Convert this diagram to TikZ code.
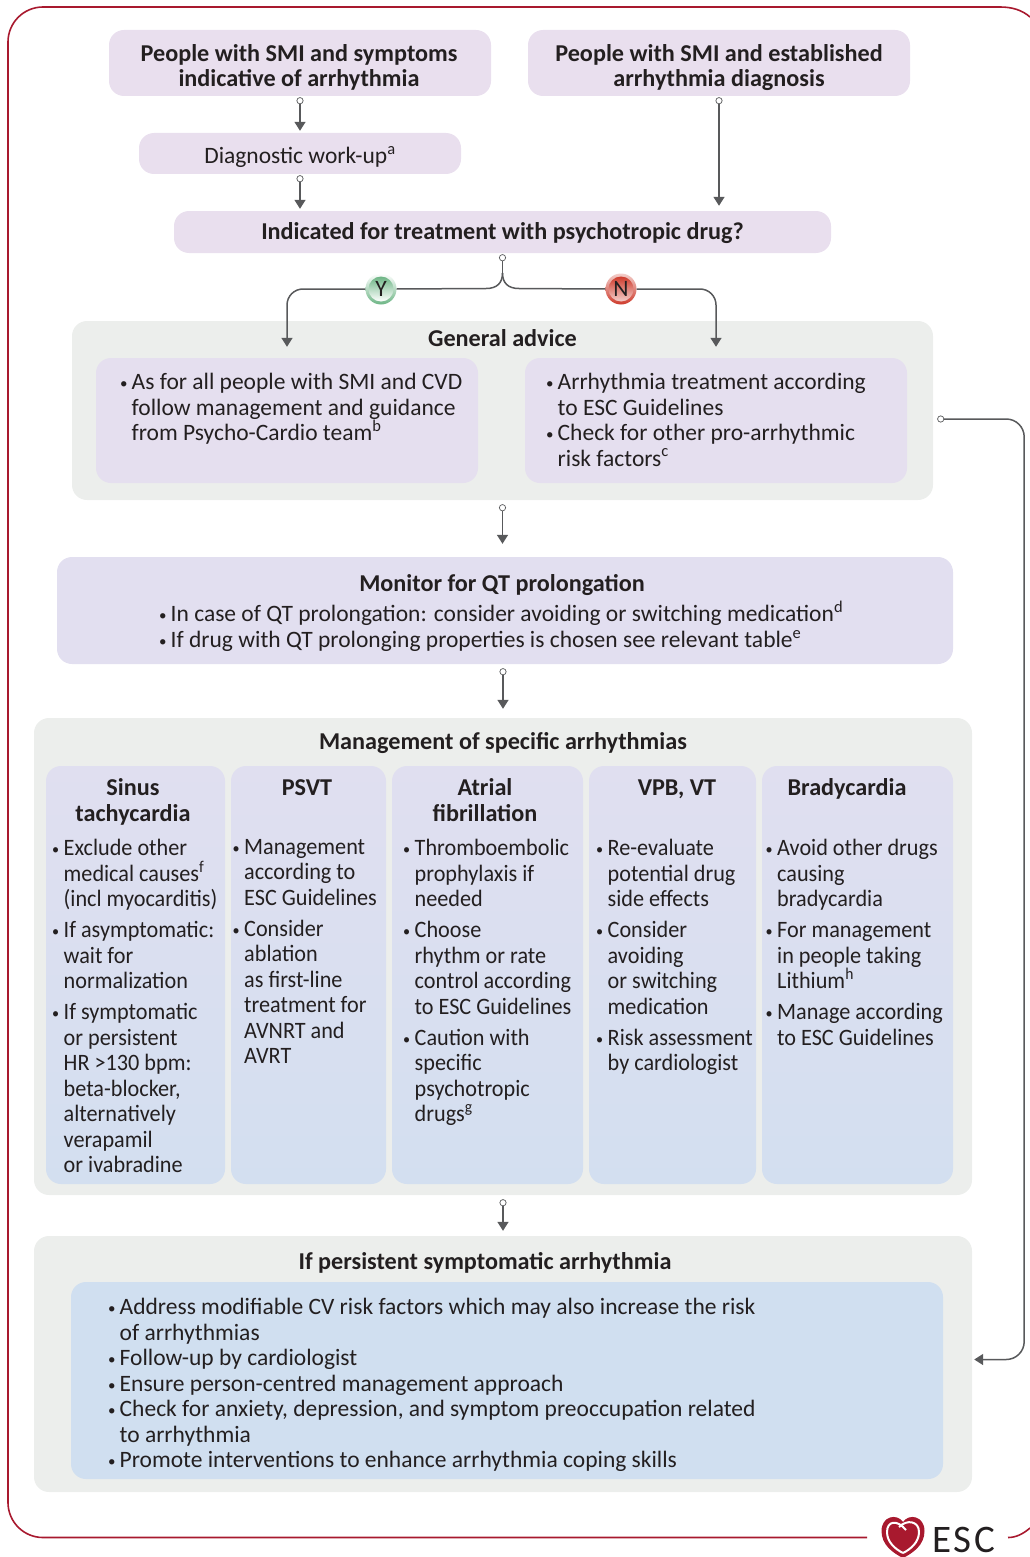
\documentclass[tikz,border=0pt]{standalone}
\usepackage{fontspec}
\setmainfont{Carlito}
\newfontfamily\colfont[FakeStretch=0.945]{Carlito}
\usetikzlibrary{arrows.meta,calc}
\definecolor{escred}{HTML}{A8192E}
\definecolor{inkgrey}{HTML}{231F20}
\definecolor{linegrey}{HTML}{58595B}
\definecolor{panelgrey}{HTML}{ECEEEC}
\definecolor{pinkbox}{HTML}{E9DFEE}
\definecolor{lilacbox}{HTML}{E5DFEF}
\definecolor{monitorbox}{HTML}{E2DFF0}
\definecolor{coltop}{HTML}{E0DFF0}
\definecolor{colbottom}{HTML}{D3DFF0}
\definecolor{bluebox}{HTML}{D0DFF0}
\definecolor{yesgreen}{HTML}{6DB585}
\definecolor{nored}{HTML}{CE3B2C}
\newcommand{\blt}{\makebox[11.5pt][l]{\raisebox{1pt}{\fontsize{15}{15}\selectfont•}}}
\newcommand{\ind}{\hspace*{11.5pt}}
\tikzset{
	mainfont/.style={font=\fontsize{23.5}{25.5}\selectfont, text=inkgrey},
	headfont/.style={font=\fontsize{24.2}{25.5}\selectfont\bfseries, text=inkgrey},
	softbox/.style={rounded corners=15pt, inner sep=0pt},
	panel/.style={softbox, fill=panelgrey},
	topbox/.style={softbox, fill=pinkbox},
	colbox/.style={softbox, top color=coltop, bottom color=colbottom, minimum height=418pt},
	textblock/.style={mainfont, anchor=north west, align=left, inner sep=0pt, execute at begin node=\strut},
	coltext/.style={textblock, font=\colfont\fontsize{23.5}{25.5}\selectfont},
	titleblock/.style={headfont, anchor=north, align=center, inner sep=0pt, execute at begin node=\strut},
	opendot/.tip={Circle[open,fill=white,length=7pt,width=7pt,line width=0.7pt]},
	headtip/.tip={Triangle[width=11pt,length=9pt]},
	conn/.style={draw=linegrey, line width=1.5pt, {opendot}-{headtip}, shorten <=1pt, shorten >=2pt},
	ball/.style={circle, minimum size=31pt, inner sep=0pt},
	balltext/.style={mainfont, inner sep=0pt},
}
\begin{document}
\begin{tikzpicture}[x=1pt,y=-1pt]
	\useasboundingbox (0,0) rectangle (1029,1557);
	%Draw border
	\draw[escred, line width=1.6pt, rounded corners=35pt] (867,1537.5) -- (8,1537.5) -- (8,7) -- (1000,7);
	\draw[escred, line width=1.6pt] (1000,7) .. controls (1012,7) and (1022,10) .. (1030,17);
	\draw[escred, line width=1.6pt] (1008,1537.5) .. controls (1016,1537.5) and (1023,1534) .. (1030,1528);

	%Draw top boxes
	\node[topbox, minimum width=382pt, minimum height=66pt] (symptoms) at (300,63) {};
	\node[topbox, minimum width=382pt, minimum height=66pt] (established) at (719,63) {};
	\node[topbox, minimum width=322pt, minimum height=41pt] (workup) at (300,153.5) {};
	\node[topbox, minimum width=657pt, minimum height=42pt] (indicated) at (502.5,232) {};
	\node[titleblock] (symptomstitle) at (299,44) {People with SMI and symptoms\\indicative of arrhythmia};
	\node[titleblock] (establishedtitle) at (719,44) {People with SMI and established\\arrhythmia diagnosis};
	\node[textblock, anchor=north] (workuptitle) at (300,145) {Diagnostic work-up\textsuperscript{a}};
	\node[titleblock] (indicatedtitle) at (502.5,221) {Indicated for treatment with psychotropic drug?};

	%Draw general advice
	\node[panel, minimum width=861pt, minimum height=179pt] (general) at (502.5,410.5) {};
	\node[titleblock] (generaltitle) at (502.5,328) {General advice};
	\node[softbox, fill=lilacbox, minimum width=382pt, minimum height=125pt] (adviceL) at (287,420.5) {};
	\node[softbox, fill=lilacbox, minimum width=382pt, minimum height=125pt] (adviceR) at (716,420.5) {};
	\node[textblock] (adviceLtext) at (120,373) {\blt As for all people with SMI and CVD\\\ind follow management and guidance\\\ind from Psycho-Cardio team\textsuperscript{b}};
	\node[textblock] (adviceRtext) at (546,373) {\blt Arrhythmia treatment according\\\ind to ESC Guidelines\\\blt Check for other pro-arrhythmic\\\ind risk factors\textsuperscript{c}};

	%Draw monitor box
	\node[softbox, fill=monitorbox, minimum width=896pt, minimum height=107pt] (monitor) at (505,610.5) {};
	\node[titleblock] (monitortitle) at (502,573) {Monitor for QT prolongation};
	\node[textblock] (monitortext) at (159,601) {\blt In case of QT prolongation: consider avoiding or switching medication\textsuperscript{d}\\\blt If drug with QT prolonging properties is chosen see relevant table\textsuperscript{e}};

	%Draw management panel
	\node[panel, minimum width=938pt, minimum height=477pt] (management) at (503,956.5) {};
	\node[titleblock] (managementtitle) at (503,731) {Management of specific arrhythmias};
	\node[colbox, minimum width=179pt] (sinus) at (135.5,975) {};
	\node[colbox, minimum width=155pt] (psvt) at (308.5,975) {};
	\node[colbox, minimum width=191pt] (atrial) at (487.5,975) {};
	\node[colbox, minimum width=167pt] (vpb) at (672.5,975) {};
	\node[colbox, minimum width=191pt] (brady) at (857.5,975) {};
	\node[titleblock] (sinustitle) at (133,778.5) {Sinus\\tachycardia};
	\node[titleblock] (psvttitle) at (307,777) {PSVT};
	\node[titleblock] (atrialtitle) at (485,778.5) {Atrial\\fibrillation};
	\node[titleblock] (vpbtitle) at (677,777) {VPB, VT};
	\node[titleblock] (bradytitle) at (847,777) {Bradycardia};
	\node[coltext] (sinustext) at (52,839) {\blt Exclude other\\\ind medical causes\textsuperscript{f}\\\ind (incl myocarditis)\\[5.5pt]\blt If asymptomatic:\\\ind wait for\\\ind normalization\\[5.5pt]\blt If symptomatic\\\ind or persistent\\\ind HR >130 bpm:\\\ind beta-blocker,\\\ind alternatively\\\ind verapamil\\\ind or ivabradine};
	\node[coltext] (psvttext) at (232.5,839) {\blt Management\\\ind according to\\\ind ESC Guidelines\\[5.5pt]\blt Consider\\\ind ablation\\\ind as first-line\\\ind treatment for\\\ind AVNRT and\\\ind AVRT};
	\node[coltext] (atrialtext) at (403,839) {\blt Thromboembolic\\\ind prophylaxis if\\\ind needed\\[5.5pt]\blt Choose\\\ind rhythm or rate\\\ind control according\\\ind to ESC Guidelines\\[5.5pt]\blt Caution with\\\ind specific\\\ind psychotropic\\\ind drugs\textsuperscript{g}};
	\node[coltext] (vpbtext) at (596,839) {\blt Re-evaluate\\\ind potential drug\\\ind side effects\\[5.5pt]\blt Consider\\\ind avoiding\\\ind or switching\\\ind medication\\[5.5pt]\blt Risk assessment\\\ind by cardiologist};
	\node[coltext] (bradytext) at (765.5,839) {\blt Avoid other drugs\\\ind causing\\\ind bradycardia\\[5.5pt]\blt For management\\\ind in people taking\\\ind Lithium\textsuperscript{h}\\[5.5pt]\blt Manage according\\\ind to ESC Guidelines};

	%Draw persistent panel
	\node[panel, minimum width=938pt, minimum height=256pt] (persistent) at (503,1364) {};
	\node[titleblock] (persistenttitle) at (485,1251) {If persistent symptomatic arrhythmia};
	\node[softbox, fill=bluebox, minimum width=872pt, minimum height=197pt] (persistentbox) at (507,1380.5) {};
	\node[textblock] (persistenttext) at (108,1298) {\blt Address modifiable CV risk factors which may also increase the risk\\\ind of arrhythmias\\\blt Follow-up by cardiologist\\\blt Ensure person-centred management approach\\\blt Check for anxiety, depression, and symptom preoccupation related\\\ind to arrhythmia\\\blt Promote interventions to enhance arrhythmia coping skills};

	%Draw straight connectors
	\draw[conn] (symptoms.south) -- (workup.north);
	\draw[conn] (workup.south) -- (workup.south |- indicated.north);
	\draw[conn, shorten >=5pt] (established.south) -- (established.south |- indicated.north);
	\draw[conn, shorten <=4pt, shorten >=13pt] (general.south) -- (general.south |- monitor.north);
	\draw[conn, shorten <=4pt, shorten >=9pt] (management.north |- monitor.south) -- (management.north);
	\draw[conn, shorten <=4pt, shorten >=5pt] (management.south) -- (persistent.north);

	%Draw Y and N branches
	\node[ball, top color=white, bottom color=yesgreen] (yes) at (381,289) {};
	\shade[top color=yesgreen, bottom color=white] (yes.center) circle (12.5);
	\node[balltext] (yeslabel) at (yes) {Y};
	\node[ball, top color=nored!25!white, bottom color=nored] (no) at (621,289) {};
	\shade[top color=nored, bottom color=nored!25!white] (no.center) circle (12.5);
	\node[balltext] (nolabel) at (no) {N};
	\coordinate (fork) at (502.5,273);
	\draw[draw=linegrey, line width=1.5pt, {opendot}-, shorten <=1pt] (indicated.south) -- (fork);
	\draw[draw=linegrey, line width=1.5pt] (fork) .. controls (502.5,283) and (497,288.5) .. (486,288.5) -- (yes.east);
	\draw[draw=linegrey, line width=1.5pt] (fork) .. controls (502.5,283) and (508,288.5) .. (519,288.5) -- (no.west);
	\draw[draw=linegrey, line width=1.5pt, -{headtip}, rounded corners=16pt] (yes.west) -| ($(adviceL.north)+(0,-11)$);
	\draw[draw=linegrey, line width=1.5pt, -{headtip}, rounded corners=16pt] (no.east) -| ($(adviceR.north)+(0,-11)$);

	%Draw feedback connector
	\draw[conn, shorten <=4pt, rounded corners=18pt] ([yshift=-8.5pt]general.east) -- ++(91,0) |- ([yshift=4.5pt]persistent.east);

	%Draw logo
	\fill[escred] (903,1558) .. controls (893,1553) and (881.5,1545) .. (881.5,1531) .. controls (881.5,1516) and (897,1513) .. (903,1522) .. controls (909,1513) and (924.5,1516) .. (924.5,1531) .. controls (924.5,1545) and (913,1553) .. (903,1558) -- cycle;
	\draw[white, line width=2pt] (903,1553) .. controls (895,1549) and (887,1542) .. (887,1532) .. controls (887,1521) and (897,1519) .. (906,1530);
	\draw[white, line width=2pt] (903,1553) .. controls (911,1549) and (919,1542) .. (919,1532) .. controls (919,1521) and (907,1519) .. (899,1527);
	\node[font=\fontsize{39}{39}\selectfont\addfontfeature{LetterSpace=7}, text=inkgrey, anchor=base west, inner sep=0pt] (esc) at (932,1552.5) {ESC};
\end{tikzpicture}
\end{document}
